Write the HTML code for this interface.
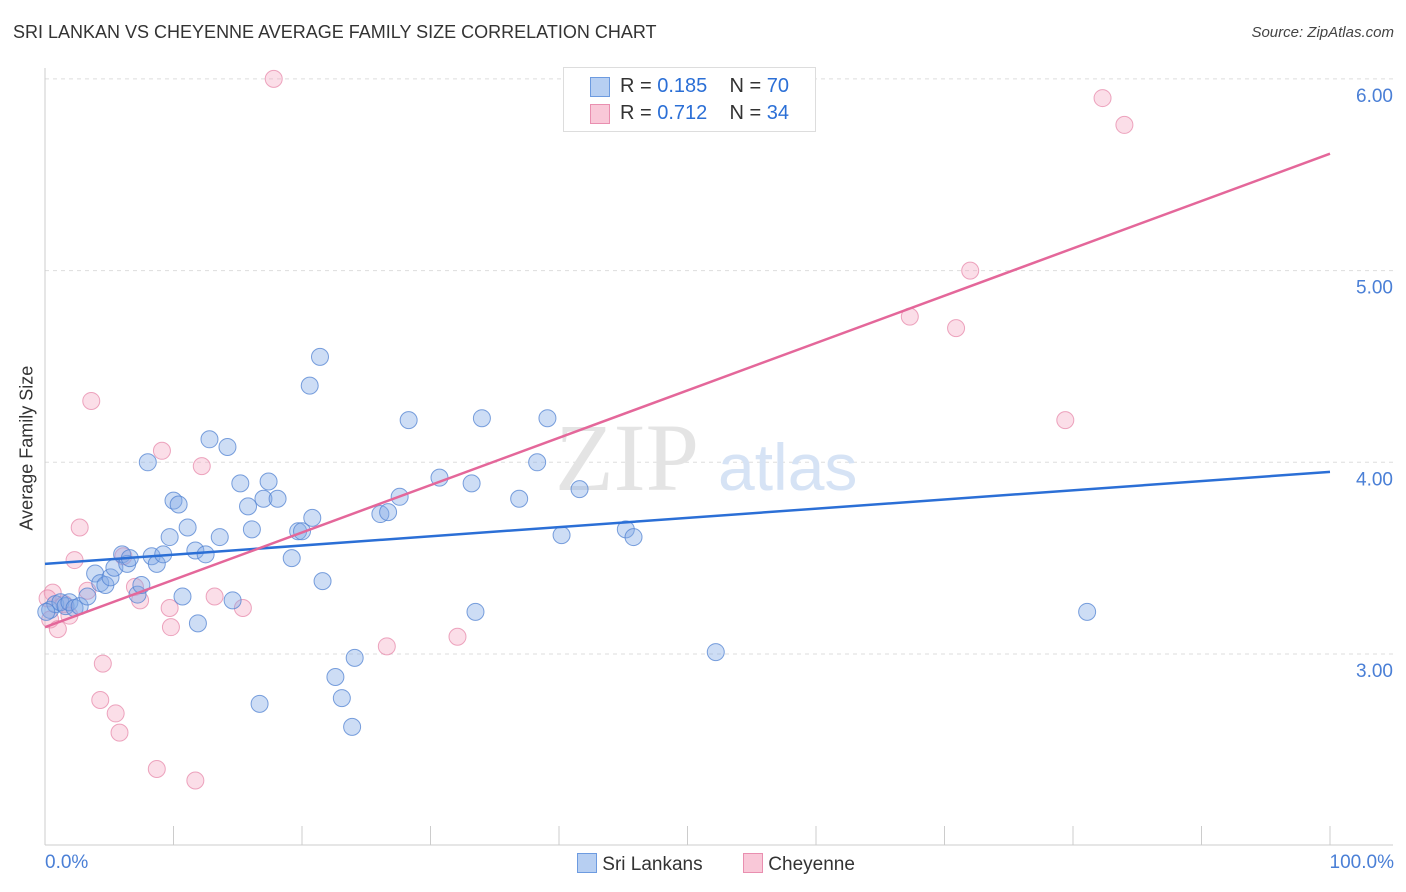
<!DOCTYPE html>
<html><head><meta charset="utf-8">
<style>
body{margin:0;background:#fff;font-family:"Liberation Sans",sans-serif;}
#wrap{position:relative;width:1406px;height:892px;overflow:hidden;}
.t{position:absolute;white-space:nowrap;}
</style></head>
<body>
<div id="wrap">
<div class="t" style="left:13px;top:22px;font-size:18px;color:#333;">SRI LANKAN VS CHEYENNE AVERAGE FAMILY SIZE CORRELATION CHART</div>
<div class="t" style="right:12px;top:24px;font-size:15px;color:#444;font-style:italic;">Source: ZipAtlas.com</div>
<svg id="svg" width="1406" height="892" style="position:absolute;left:0;top:0"></svg>
</div>
<script>
const ticksY=[3,4,5,6];
const tickLabelsY=["3.00","4.00","5.00","6.00"];
const blueX=[0.4,0.8,1.2,1.6,1.9,2.3,2.7,3.3,3.9,4.3,4.7,5.1,5.4,6.0,6.4,6.6,7.2,7.5,8.0,8.3,8.7,9.2,9.7,10.0,10.4,10.7,11.1,11.7,11.9,12.5,12.8,13.6,14.2,14.6,15.2,15.8,16.1,16.7,17.0,17.4,18.1,19.2,19.7,20.0,20.6,20.8,21.4,21.6,22.6,23.1,23.9,24.1,26.1,26.7,27.6,28.3,30.7,33.2,33.5,34.0,36.9,38.3,39.1,40.2,41.6,45.2,45.8,52.2,81.1,0.1];
const blueY=[3.23,3.26,3.27,3.25,3.27,3.24,3.25,3.30,3.42,3.37,3.36,3.40,3.45,3.52,3.47,3.50,3.31,3.36,4.0,3.51,3.47,3.52,3.61,3.80,3.78,3.30,3.66,3.54,3.16,3.52,4.12,3.61,4.08,3.28,3.89,3.77,3.65,2.74,3.81,3.90,3.81,3.50,3.64,3.64,4.40,3.71,4.55,3.38,2.88,2.77,2.62,2.98,3.73,3.74,3.82,4.22,3.92,3.89,3.22,4.23,3.81,4.0,4.23,3.62,3.86,3.65,3.61,3.01,3.22,3.22];
const pinkX=[0.6,0.4,1.0,1.5,1.9,2.3,2.7,3.3,3.6,4.3,4.5,5.5,5.8,6.1,7.0,7.4,8.7,9.1,9.7,9.8,11.7,12.2,13.2,15.4,17.8,26.6,32.1,67.3,70.9,72.0,79.4,82.3,84.0,0.2];
const pinkY=[3.32,3.18,3.13,3.26,3.20,3.49,3.66,3.33,4.32,2.76,2.95,2.69,2.59,3.51,3.35,3.28,2.40,4.06,3.24,3.14,2.34,3.98,3.30,3.24,6.0,3.04,3.09,4.76,4.70,5.0,4.22,5.90,5.76,3.29];
const blueFit=[3.47,3.95];
const pinkFit=[3.14,5.61];
const X0=45,X1=1330,yPx=v=>654-(v-3)*191.7,xPx=p=>X0+p/100*(X1-X0);
const svg=document.getElementById('svg');const NS='http://www.w3.org/2000/svg';
function mk(tag,attrs,name){const e=document.createElementNS(NS,tag);for(const k in attrs)e.setAttribute(k,attrs[k]);


svg.appendChild(e);return e;}
ticksY.forEach((v,i)=>{mk('line',{x1:45,x2:1393,y1:yPx(v),y2:yPx(v),stroke:'#ddd','stroke-dasharray':'4,4'},'gridline');
const t=mk('text',{x:1393,y:yPx(v)+23,'text-anchor':'end','font-size':19,fill:'#4a7fd6','font-family':'Liberation Sans'},'y-tick-label');t.textContent=tickLabelsY[i];});
mk('line',{x1:45,x2:45,y1:68,y2:845,stroke:'#ccc'},'y-axis');
mk('line',{x1:45,x2:1393,y1:845,y2:845,stroke:'#ccc'},'x-axis');
for(let i=0;i<=10;i++){const x=xPx(i*10);mk('line',{x1:x,x2:x,y1:826,y2:845,stroke:'#ccc'},'x-tick');}
const wm=mk('text',{x:555,y:490,'font-size':96,fill:'#e4e4e4','font-family':'Liberation Serif'},'watermark-zip');wm.textContent='ZIP';
const wm2=mk('text',{x:718,y:490,'font-size':66,fill:'#d6e3f5','font-family':'Liberation Sans'},'watermark-atlas');wm2.textContent='atlas';
pinkX.forEach((p,i)=>mk('circle',{cx:xPx(p),cy:yPx(pinkY[i]),r:8.5,fill:'rgba(244,160,190,0.35)',stroke:'rgba(230,130,165,0.7)','stroke-width':1},'cheyenne-point'));
blueX.forEach((p,i)=>mk('circle',{cx:xPx(p),cy:yPx(blueY[i]),r:8.5,fill:'rgba(130,170,230,0.4)',stroke:'rgba(80,130,210,0.75)','stroke-width':1},'sri-lankan-point'));
mk('line',{x1:X0,x2:X1,y1:yPx(blueFit[0]),y2:yPx(blueFit[1]),stroke:'#2b6fd6','stroke-width':2.5},'sri-lankan-trend-line');
mk('line',{x1:X0,x2:X1,y1:yPx(pinkFit[0]),y2:yPx(pinkFit[1]),stroke:'#e4679a','stroke-width':2.5},'cheyenne-trend-line');
</script>
<div class="t" style="left:-48px;top:445px;font-size:18px;color:#333;transform:rotate(-90deg);width:150px;text-align:center;">Average Family Size</div>
<div class="t" style="left:45px;top:852px;font-size:19px;color:#4a7fd6;">0.0%</div>
<div class="t" style="right:12px;top:852px;font-size:19px;color:#4a7fd6;">100.0%</div>
<div style="position:absolute;left:563px;top:67px;width:251px;height:63px;border:1px solid #ddd;background:#fff;font-size:20px;color:#333;">
 <div style="position:absolute;left:26px;top:9px;width:18px;height:18px;background:#b7cff2;border:1px solid #6d9be0"></div>
 <div class="t" style="left:56px;top:7px">R = <span style="color:#2b6fd6">0.185</span>&nbsp;&nbsp;&nbsp; N = <span style="color:#2b6fd6">70</span></div>
 <div style="position:absolute;left:26px;top:36px;width:18px;height:18px;background:#f9c8d8;border:1px solid #e98fb0"></div>
 <div class="t" style="left:56px;top:34px">R = <span style="color:#2b6fd6">0.712</span>&nbsp;&nbsp;&nbsp; N = <span style="color:#2b6fd6">34</span></div>
</div>
<div style="position:absolute;left:577px;top:853px;font-size:19px;color:#333;">
 <span style="display:inline-block;width:18px;height:18px;background:#b7cff2;border:1px solid #6d9be0;vertical-align:-3px"></span> Sri Lankans</div>
<div style="position:absolute;left:743px;top:853px;font-size:19px;color:#333;">
 <span style="display:inline-block;width:18px;height:18px;background:#f9c8d8;border:1px solid #e98fb0;vertical-align:-3px"></span> Cheyenne</div>
</body></html>
